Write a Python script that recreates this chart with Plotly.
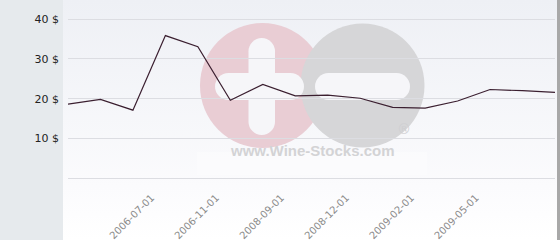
import base64
import plotly.graph_objects as go

# ---- data ----
prices = [18.6, 19.8, 17.1, 35.9, 33.1, 19.6, 23.6, 20.7, 20.9, 20.1, 17.8, 17.6, 19.4, 22.3, 22.0, 21.6]
tick_index = [3, 5, 7, 9, 11, 13]
tick_labels = ["2006-07-01", "2006-11-01", "2008-09-01", "2008-12-01", "2009-02-01", "2009-05-01"]
y_ticks = [10, 20, 30, 40]
y_tick_labels = [f"{v} $" for v in y_ticks]

W, H = 560, 240
ML, MR, MT, MB = 68, 5, 0, 62
PW, PH = W - ML - MR, H - MT - MB


def px_x(px):
    return (px - ML) / PW


def px_y(py):
    return (H - MB - py) / PH


bg_svg = f'''<svg xmlns="http://www.w3.org/2000/svg" width="{W}" height="{H}" viewBox="0 0 {W} {H}">
<defs><linearGradient id="g" x1="0" y1="0" x2="0" y2="1">
<stop offset="0" stop-color="#eef0f5"/><stop offset="0.78" stop-color="#fbfbfd"/><stop offset="1" stop-color="#ffffff"/>
</linearGradient></defs>
<rect x="0" y="0" width="{W}" height="{H}" fill="#e6eaed"/>
<rect x="63" y="0" width="494" height="{H}" fill="url(#g)"/>
<rect x="557" y="0" width="3" height="{H}" fill="#a8a8a8"/>
<rect x="197" y="152" width="230" height="23" fill="#ffffff" opacity="0.3"/>
<circle cx="262.5" cy="85.5" r="62.5" fill="#e9cdd4"/>
<circle cx="362.5" cy="85.5" r="62" fill="#d6d6d8"/>
<rect x="248.5" y="38" width="26.5" height="97" rx="13.25" fill="#f6f6f9"/>
<rect x="215" y="73" width="89" height="27" rx="13.5" fill="#f6f6f9"/>
<rect x="315" y="73" width="95" height="27" rx="13.5" fill="#f6f6f9"/>
</svg>'''
bg_src = "data:image/svg+xml;base64," + base64.b64encode(bg_svg.encode()).decode()

fig = go.Figure()
fig.add_trace(go.Scatter(
    x=list(range(len(prices))), y=prices, mode="lines",
    line=dict(color="#3b1f30", width=1.2), hoverinfo="skip", showlegend=False,
))

fig.add_layout_image(dict(
    source=bg_src, xref="paper", yref="paper",
    x=px_x(0), y=px_y(0), sizex=W / PW, sizey=H / PH,
    xanchor="left", yanchor="top", sizing="stretch", layer="below",
))

fig.add_annotation(text="<b>www.Wine-Stocks.com</b>", xref="paper", yref="paper",
                   x=px_x(312), y=px_y(161), showarrow=False,
                   font=dict(family="Liberation Sans", size=15, color="#d3d3d5"))
fig.add_annotation(text="®", xref="paper", yref="paper",
                   x=px_x(413), y=px_y(139), showarrow=False,
                   font=dict(family="DejaVu Sans", size=14, color="#cfcfd2"))

fig.update_layout(
    width=W, height=H, margin=dict(l=ML, r=MR, t=MT, b=MB),
    paper_bgcolor="rgba(0,0,0,0)", plot_bgcolor="rgba(0,0,0,0)",
    font=dict(family="DejaVu Sans"),
    xaxis=dict(range=[0, len(prices) - 1], tickvals=tick_index, ticktext=tick_labels,
               tickangle=-45, showgrid=False, zeroline=False,
               showline=True, linecolor="#dcdde2", linewidth=1,
               ticklabelstandoff=9, ticklabelshift=-14,
               tickfont=dict(size=10, color="#8a8a8a")),
    yaxis=dict(range=[0, PH / 3.9675], tickvals=y_ticks, ticktext=y_tick_labels,
               showgrid=True, gridcolor="#dcdde2", gridwidth=1, zeroline=False,
               ticklabelstandoff=8, tickfont=dict(size=11, color="#222222")),
)

fig.write_html("out.html")
